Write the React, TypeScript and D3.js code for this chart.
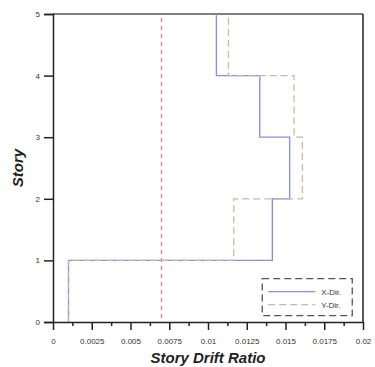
import { useEffect, useRef } from "react";
import * as d3 from "d3";

// story drift ratio per story (story 1..5)
const stories = [1, 2, 3, 4, 5];
const xDir = [0.001, 0.01415, 0.01527, 0.01334, 0.01054];
const yDir = [0.001, 0.01166, 0.01609, 0.01555, 0.01132];
const limitDrift = 0.007;

const xMajorTicks = [0, 0.0025, 0.005, 0.0075, 0.01, 0.0125, 0.015, 0.0175, 0.02];
const xTickLabels = ["0", "0.0025", "0.005", "0.0075", "0.01", "0.0125", "0.015", "0.0175", "0.02"];
const xMinorTicks = [0.00125, 0.00375, 0.00625, 0.00875, 0.01125, 0.01375, 0.01625, 0.01875];
const yTicks = [0, 1, 2, 3, 4, 5];

const legendItems = [
  { name: "X-Dir.", color: "#8a8ae8", dash: null as string | null },
  { name: "Y-Dir.", color: "#c9b9a4", dash: "7 4" },
];

type Pt = { d: number; s: number };

function stepPoints(drifts: number[]): Pt[] {
  const pts: Pt[] = [];
  drifts.forEach((d, i) => {
    pts.push({ d, s: stories[i] - 1 });
    pts.push({ d, s: stories[i] });
  });
  return pts;
}

export default function App() {
  const svgRef = useRef<SVGSVGElement>(null);

  useEffect(() => {
    const width = 375;
    const height = 367;
    const margin = { top: 14, right: 12, bottom: 45, left: 53 };
    const innerW = width - margin.left - margin.right;
    const innerH = height - margin.top - margin.bottom;

    const svg = d3.select(svgRef.current).attr("width", width).attr("height", height);
    svg.selectAll("*").remove();
    const g = svg.append("g").attr("transform", `translate(${margin.left},${margin.top})`);

    const x = d3.scaleLinear().domain([0, 0.02]).range([0, innerW]);
    const y = d3.scaleLinear().domain([0, 5]).range([innerH, 0]);

    const font = "Arial, 'Liberation Sans', sans-serif";

    // frame: top + right
    g.append("line")
      .attr("x1", 0).attr("x2", innerW).attr("y1", 0).attr("y2", 0)
      .attr("stroke", "#555").attr("stroke-width", 1.5);
    g.append("line")
      .attr("x1", innerW).attr("x2", innerW).attr("y1", 0).attr("y2", innerH)
      .attr("stroke", "#222").attr("stroke-width", 1.5);

    // allowable drift line
    g.append("line")
      .attr("x1", x(limitDrift)).attr("x2", x(limitDrift))
      .attr("y1", y(5) + 4).attr("y2", y(0))
      .attr("stroke", "#f07080").attr("stroke-width", 1.2)
      .attr("stroke-dasharray", "4 4");

    const line = d3.line<Pt>().x((p) => x(p.d)).y((p) => y(p.s));

    g.append("path")
      .datum(stepPoints(xDir))
      .attr("fill", "none")
      .attr("stroke", legendItems[0].color)
      .attr("stroke-width", 1.3)
      .attr("d", line);

    g.append("path")
      .datum(stepPoints(yDir))
      .attr("fill", "none")
      .attr("stroke", legendItems[1].color)
      .attr("stroke-width", 1.3)
      .attr("stroke-dasharray", legendItems[1].dash)
      .attr("d", line);

    // y axis
    const ya = g.append("g")
      .call(d3.axisLeft(y).tickValues(yTicks).tickFormat(d3.format("d")).tickSize(9).tickPadding(4));
    ya.select(".domain").attr("stroke", "#222").attr("stroke-width", 1.5);
    ya.selectAll("line").attr("stroke", "#222").attr("stroke-width", 1.5);
    ya.selectAll("text").style("font-size", "8px").style("font-family", font).style("fill", "#333");

    // x axis minor ticks
    const xm = g.append("g")
      .attr("transform", `translate(0,${innerH})`)
      .call(d3.axisBottom(x).tickValues(xMinorTicks).tickFormat(() => "").tickSize(4));
    xm.select(".domain").remove();
    xm.selectAll("line").attr("stroke", "#222").attr("stroke-width", 1.5);

    // x axis major ticks
    const xa = g.append("g")
      .attr("transform", `translate(0,${innerH})`)
      .call(
        d3.axisBottom(x)
          .tickValues(xMajorTicks)
          .tickFormat((_, i) => xTickLabels[i])
          .tickSize(8)
          .tickSizeOuter(0)
          .tickPadding(8)
      );
    xa.select(".domain").attr("stroke", "#222").attr("stroke-width", 1.5);
    xa.selectAll("line").attr("stroke", "#222").attr("stroke-width", 1.5);
    xa.selectAll("text").style("font-size", "8px").style("font-family", font).style("fill", "#333");

    // axis titles
    g.append("text")
      .attr("x", innerW / 2)
      .attr("y", innerH + 41)
      .attr("text-anchor", "middle")
      .style("font-size", "15px")
      .style("font-weight", "700")
      .style("font-style", "italic")
      .style("font-family", font)
      .style("fill", "#222")
      .text("Story Drift Ratio");

    g.append("text")
      .attr("transform", `translate(${-30},${innerH / 2}) rotate(-90)`)
      .attr("text-anchor", "middle")
      .style("font-size", "15px")
      .style("font-weight", "700")
      .style("font-style", "italic")
      .style("font-family", font)
      .style("fill", "#222")
      .text("Story");

    // legend
    const lg = g.append("g").attr("transform", `translate(${x(0.0135)},${y(0.25) - 28})`);
    lg.append("rect")
      .attr("width", 90).attr("height", 37)
      .attr("fill", "#fff")
      .attr("stroke", "#555").attr("stroke-width", 1.3)
      .attr("stroke-dasharray", "7 4");
    legendItems.forEach((e, i) => {
      const row = lg.append("g").attr("transform", `translate(0,${13 + i * 13})`);
      row.append("line")
        .attr("x1", 6).attr("x2", 53).attr("y1", 0).attr("y2", 0)
        .attr("stroke", e.color).attr("stroke-width", 1.3)
        .attr("stroke-dasharray", e.dash);
      row.append("text")
        .attr("x", 59).attr("y", 3)
        .style("font-size", "8px")
        .style("font-family", font)
        .style("fill", "#333")
        .text(e.name);
    });
  }, []);

  return (
    <svg
      ref={svgRef}
      style={{ position: "absolute", left: 0, top: 0, display: "block", background: "#fff" }}
    />
  );
}
